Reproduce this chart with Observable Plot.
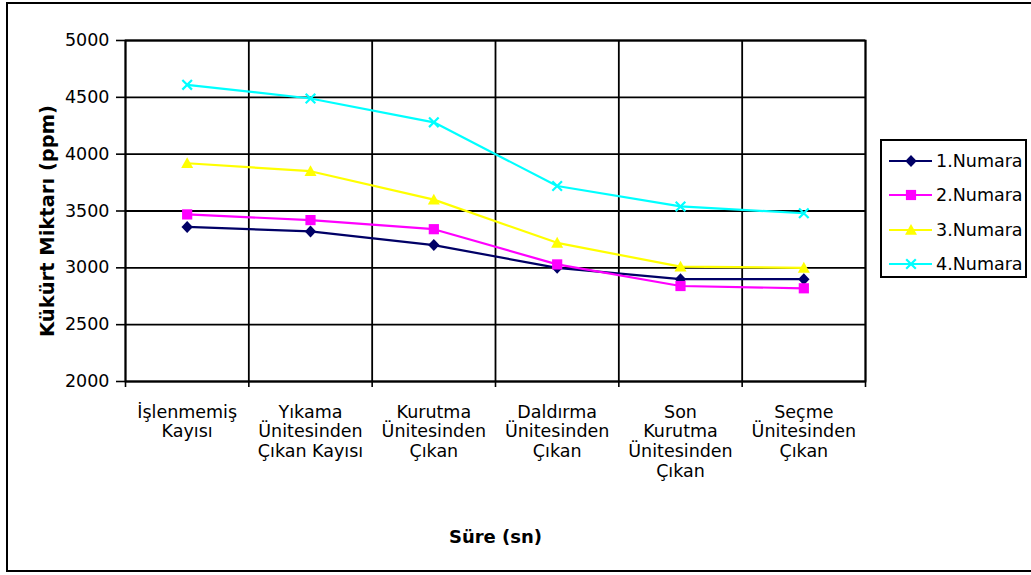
<!DOCTYPE html>
<html>
<head>
<meta charset="utf-8">
<script src="https://cdn.jsdelivr.net/npm/d3@7"></script>
<script src="https://cdn.jsdelivr.net/npm/@observablehq/plot@0.6"></script>
<style>
  html, body { margin: 0; padding: 0; background: #fff; }
  #wrap { position: relative; width: 1031px; height: 575px; overflow: hidden; font-family: "DejaVu Sans", Arial, sans-serif; }
  #border { position: absolute; left: 6px; top: 2px; width: 1040px; height: 570px; border: 2px solid #000; box-sizing: border-box; }
  #chart { position: absolute; left: 0; top: 0; }
  #legend { position: absolute; left: 880px; top: 139px; width: 147px; height: 139px; border: 2px solid #000; box-sizing: border-box; background: #fff; }
  .item { position: absolute; left: 6px; height: 22px; display: flex; align-items: center; font-size: 17.5px; color: #000; white-space: nowrap; }
  .item svg { margin-right: 2px; }
</style>
</head>
<body>
<div id="wrap">
  <div id="chart"></div>
  <div id="border"></div>
  <div id="legend"></div>
</div>
<script>
const categories = [
  "İşlenmemiş\nKayısı",
  "Yıkama\nÜnitesinden\nÇıkan Kayısı",
  "Kurutma\nÜnitesinden\nÇıkan",
  "Daldırma\nÜnitesinden\nÇıkan",
  "Son\nKurutma\nÜnitesinden\nÇıkan",
  "Seçme\nÜnitesinden\nÇıkan"
];
const seriesNames = ["1.Numara", "2.Numara", "3.Numara", "4.Numara"];
const numara1 = [3360, 3320, 3200, 3000, 2900, 2900];
const numara2 = [3470, 3420, 3340, 3030, 2840, 2820];
const numara3 = [3920, 3850, 3600, 3220, 3010, 3000];
const numara4 = [4610, 4490, 4280, 3720, 3540, 3480];
const yTicks = [2000, 2500, 3000, 3500, 4000, 4500, 5000];
const colors = ["#000066", "#ff00ff", "#ffff00", "#00ffff"];

// custom marker shapes (draw with half-size h derived from Plot's symbol size)
const half = size => Math.sqrt(size / Math.PI);
const shapes = [
  {draw(c, size) { const h = half(size); c.moveTo(0, -h); c.lineTo(h * 0.95, 0); c.lineTo(0, h); c.lineTo(-h * 0.95, 0); c.closePath(); }},
  {draw(c, size) { const h = half(size) * 0.85; c.moveTo(-h, -h); c.lineTo(h, -h); c.lineTo(h, h); c.lineTo(-h, h); c.closePath(); }},
  {draw(c, size) { const h = half(size); c.moveTo(0, -h); c.lineTo(h, h * 0.8); c.lineTo(-h, h * 0.8); c.closePath(); }},
  {draw(c, size) { const h = half(size) * 0.8; c.moveTo(-h, -h); c.lineTo(h, h); c.moveTo(h, -h); c.lineTo(-h, h); }}
];

const allSeries = [numara1, numara2, numara3, numara4];
const data = allSeries.flatMap((vals, s) => vals.map((v, i) => ({series: seriesNames[s], s, i, pos: i + 0.5, value: v})));
const centers = categories.map((c, i) => i + 0.5);
const bounds = d3.range(categories.length + 1);

const marks = [
  Plot.gridY(yTicks, {stroke: "#000", strokeOpacity: 1, strokeWidth: 1.8}),
  Plot.gridX(bounds, {stroke: "#000", strokeOpacity: 1, strokeWidth: 1.8}),
  Plot.frame({stroke: "#000", strokeWidth: 1.8}),
  Plot.axisY(yTicks, {tickSize: 9, tickPadding: 7, fontSize: 17.5, tickFormat: d => String(d), label: null, stroke: "#000", strokeWidth: 1.6}),
  Plot.axisX(bounds, {tickSize: 6, tickFormat: () => "", label: null, stroke: "#000", strokeWidth: 1.6}),
  Plot.axisX(centers, {tickSize: 0, tickPadding: 22, fontSize: 17.5, lineHeight: 1.13, tickFormat: d => categories[Math.floor(d)], label: null}),
];
allSeries.forEach((vals, s) => {
  const d = data.filter(r => r.s === s);
  marks.push(Plot.line(d, {x: "pos", y: "value", stroke: colors[s], strokeWidth: 2.2}));
  if (s === 3) {
    marks.push(Plot.dot(d, {x: "pos", y: "value", symbol: shapes[s], stroke: colors[s], fill: "none", strokeWidth: 2.2, r: 6}));
  } else {
    marks.push(Plot.dot(d, {x: "pos", y: "value", symbol: shapes[s], fill: colors[s], stroke: "none", r: 6}));
  }
});
marks.push(Plot.text(["Kükürt Miktarı (ppm)"], {frameAnchor: "left", textAnchor: "middle", dx: -78, dy: 10, rotate: -90, fontWeight: "bold", fontSize: 19.5}));
marks.push(Plot.text(["Süre (sn)"], {frameAnchor: "bottom", dy: 161, fontWeight: "bold", fontSize: 18}));

const chart = Plot.plot({
  width: 1031,
  height: 575,
  marginLeft: 125,
  marginRight: 166,
  marginTop: 40,
  marginBottom: 194,
  style: {fontFamily: '"DejaVu Sans", Arial, sans-serif', color: "#000", background: "transparent", overflow: "visible"},
  x: {type: "linear", domain: [0, categories.length]},
  y: {domain: [2000, 5000]},
  marks
});
document.getElementById("chart").appendChild(chart);

// Legend
const legend = document.getElementById("legend");
seriesNames.forEach((name, s) => {
  const item = document.createElement("div");
  item.className = "item";
  item.style.top = (9 + s * 34.3) + "px";
  const svg = d3.create("svg").attr("width", 46).attr("height", 22);
  svg.append("line").attr("x1", 1).attr("x2", 44).attr("y1", 11).attr("y2", 11).attr("stroke", colors[s]).attr("stroke-width", 2.2);
  const p = svg.append("path").attr("transform", "translate(23,11)").attr("d", d3.symbol(shapes[s], Math.PI * 36)());
  if (s === 3) p.attr("fill", "none").attr("stroke", colors[s]).attr("stroke-width", 2.2);
  else p.attr("fill", colors[s]);
  item.appendChild(svg.node());
  const t = document.createElement("span");
  t.textContent = name;
  item.appendChild(t);
  legend.appendChild(item);
});
</script>
</body>
</html>
